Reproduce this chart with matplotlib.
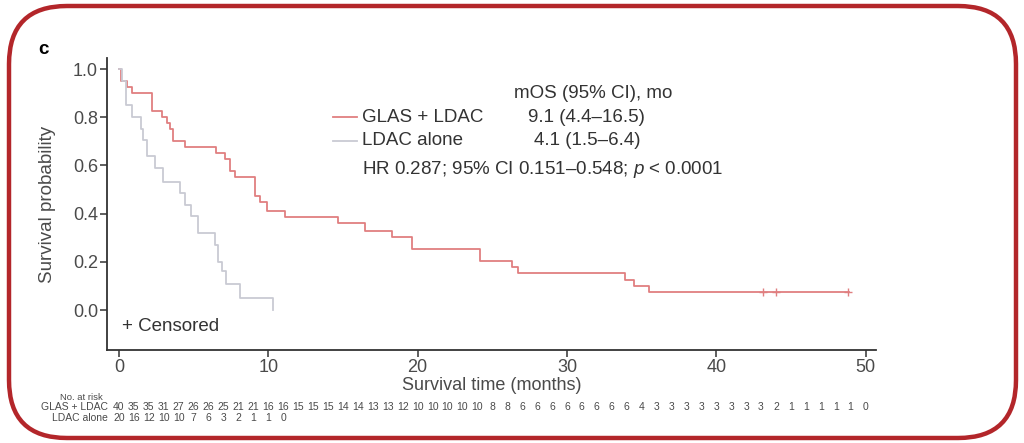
import matplotlib
matplotlib.use("Agg")
import matplotlib.pyplot as plt
from matplotlib.patches import FancyBboxPatch
from matplotlib.lines import Line2D
from matplotlib.transforms import IdentityTransform, blended_transform_factory

# Kaplan-Meier steps (months, survival probability)
glas_t = [0, 0.15, 0.55, 0.9, 2.2, 2.9, 3.2, 3.45, 3.6, 4.4, 6.5, 7.1, 7.45, 7.75,
          9.1, 9.45, 9.9, 11.1, 14.7, 16.5, 18.3, 19.6, 24.2, 26.3, 26.7, 33.9,
          34.5, 35.5, 48.9]
glas_s = [1.0, 0.95, 0.925, 0.90, 0.825, 0.80, 0.775, 0.75, 0.70, 0.675, 0.65,
          0.625, 0.575, 0.55, 0.475, 0.45, 0.41, 0.385, 0.36, 0.33, 0.305, 0.255,
          0.205, 0.18, 0.155, 0.125, 0.10, 0.075, 0.075]
glas_censor_t = [43.1, 44.0, 48.8]
glas_censor_s = [0.075, 0.075, 0.075]

ldac_t = [0, 0.2, 0.5, 0.9, 1.5, 1.6, 1.9, 2.4, 2.95, 4.1, 4.4, 4.85, 5.3, 6.4,
          6.65, 6.9, 7.2, 8.1, 10.3]
ldac_s = [1.0, 0.95, 0.85, 0.80, 0.75, 0.705, 0.64, 0.59, 0.53, 0.485, 0.435,
          0.39, 0.32, 0.27, 0.20, 0.16, 0.11, 0.05, 0.0]

# number at risk, one value per month
glas_risk = [40, 35, 35, 31, 27, 26, 26, 25, 21, 21, 16, 16, 15, 15, 15, 14, 14,
             13, 13, 12, 10, 10, 10, 10, 10, 8, 8, 6, 6, 6, 6, 6, 6, 6, 6, 4,
             3, 3, 3, 3, 3, 3, 3, 3, 2, 1, 1, 1, 1, 1, 0]
ldac_risk = [20, 16, 12, 10, 10, 7, 6, 3, 2, 1, 1, 0]

groups = ["GLAS + LDAC", "LDAC alone"]
mos_text = ["9.1 (4.4\u201316.5)", "4.1 (1.5\u20136.4)"]

red = "#e07f80"
grey = "#c9cad3"
txt = "#4a4a4a"
dark = "#333333"

plt.rcParams["font.family"] = ["Liberation Sans", "DejaVu Sans"]
plt.rcParams["mathtext.fontset"] = "custom"
plt.rcParams["mathtext.it"] = "Liberation Sans:italic"
plt.rcParams["mathtext.rm"] = "Liberation Sans"

fig = plt.figure(figsize=(10.24, 4.43), dpi=100)
W, H = 1024, 443

def fx(px):
    return px / W

def fy(py):
    return 1 - py / H

ax = fig.add_axes([fx(107), fy(350), fx(876) - fx(107), fy(58) - fy(350)])

ax.step(glas_t, glas_s, where="post", color=red, lw=1.3)
ax.step(ldac_t, ldac_s, where="post", color=grey, lw=1.3)
ax.plot(glas_censor_t, glas_censor_s, "+", color=red, ms=6, mew=1)

ax.set_xlim(-0.8, 50.7)
ax.set_ylim(-0.166, 1.046)
ax.set_xticks(range(0, 51, 10))
ax.set_yticks([0, 0.2, 0.4, 0.6, 0.8, 1.0])
ax.set_yticklabels(["0.0", "0.2", "0.4", "0.6", "0.8", "1.0"])
for s in ["top", "right"]:
    ax.spines[s].set_visible(False)
for s in ["left", "bottom"]:
    ax.spines[s].set_color(dark)
    ax.spines[s].set_linewidth(1.3)
ax.tick_params(colors=dark, labelcolor=txt, labelsize=13, length=5,
               width=1.1, pad=1.5)
ax.set_xlabel("Survival time (months)", fontsize=13, color=txt, labelpad=1)
ax.set_ylabel("Survival probability", fontsize=13.5, color=txt, labelpad=12)

ax.text(0.2, -0.07, "+ Censored", fontsize=13.5, color=dark, va="center")

# legend block with median OS
fig.text(fx(514), fy(93), "mOS (95% CI), mo", fontsize=13.5, color=dark, va="center")
fig.add_artist(Line2D([fx(333), fx(357)], [fy(117), fy(117)], color=red, lw=1.3))
fig.add_artist(Line2D([fx(333), fx(357)], [fy(141), fy(141)], color=grey, lw=1.3))
fig.text(fx(362), fy(117), groups[0], fontsize=13.5, color=dark, va="center")
fig.text(fx(362), fy(141), groups[1], fontsize=13.5, color=dark, va="center")
fig.text(fx(528), fy(117), mos_text[0], fontsize=13.5, color=dark, va="center")
fig.text(fx(534), fy(141), mos_text[1], fontsize=13.5, color=dark, va="center")
fig.text(fx(362), fy(169), "HR 0.287; 95% CI 0.151\u20130.548; $p$ < 0.0001",
         fontsize=13.5, color=dark, va="center")

fig.text(fx(38), fy(50), "c", fontsize=13.5, fontweight="bold", color="black", va="center")

# number at risk table under the x axis
trans = blended_transform_factory(ax.transData, fig.transFigure)
fig.text(fx(81), fy(398), "No. at risk", fontsize=6.8, color=txt, ha="center", va="center")
fig.text(fx(108), fy(407), groups[0], fontsize=7.5, color=txt, ha="right", va="center")
fig.text(fx(108), fy(418), groups[1], fontsize=7.5, color=txt, ha="right", va="center")
for i, n in enumerate(glas_risk):
    ax.text(i, fy(407), str(n), transform=trans, fontsize=7.5, color=txt,
            ha="center", va="center", clip_on=False)
for i, n in enumerate(ldac_risk):
    ax.text(i, fy(418), str(n), transform=trans, fontsize=7.5, color=txt,
            ha="center", va="center", clip_on=False)

# rounded frame around the panel
frame = FancyBboxPatch((9, 5), 1007, 432, boxstyle="round,pad=0,rounding_size=58",
                       transform=IdentityTransform(), fill=False,
                       edgecolor="#b3262a", linewidth=3.2)
fig.add_artist(frame)

fig.savefig("out.png", dpi=100)
